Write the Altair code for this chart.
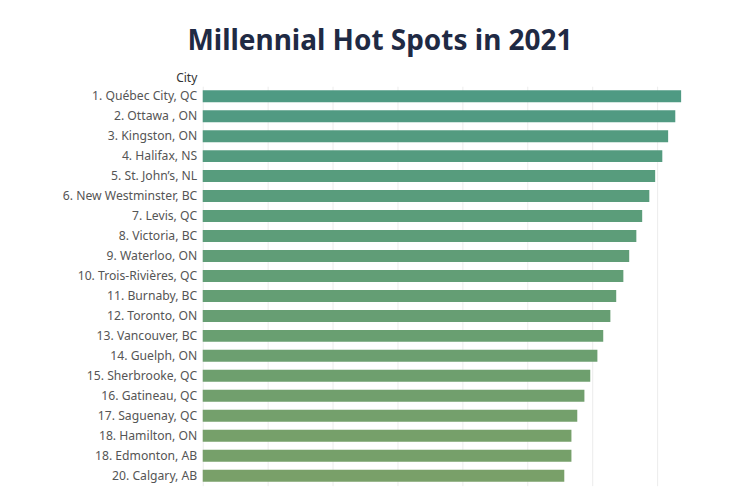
import altair as alt
import pandas as pd

cities = [
    "1. Québec City, QC", "2. Ottawa , ON", "3. Kingston, ON", "4. Halifax, NS",
    "5. St. John’s, NL", "6. New Westminster, BC", "7. Levis, QC", "8. Victoria, BC",
    "9. Waterloo, ON", "10. Trois-Rivières, QC", "11. Burnaby, BC", "12. Toronto, ON",
    "13. Vancouver, BC", "14. Guelph, ON", "15. Sherbrooke, QC", "16. Gatineau, QC",
    "17. Saguenay, QC", "18. Hamilton, ON", "18. Edmonton, AB", "20. Calgary, AB",
]
scores = [73.7, 72.8, 71.7, 70.8, 69.7, 68.8, 67.7, 66.8, 65.7, 64.8,
          63.7, 62.8, 61.7, 60.8, 59.7, 58.8, 57.7, 56.8, 56.8, 55.7]

df = pd.DataFrame({"City": cities, "Score": scores})

FONT = "Noto Sans"

chart = alt.Chart(df).mark_bar().encode(
    y=alt.Y("City:N", sort=cities,
            scale=alt.Scale(paddingInner=0.4, paddingOuter=0.2),
            axis=alt.Axis(title="City", titleAngle=0, titleAlign="right",
                          titleBaseline="bottom", titleX=-6, titleY=-2,
                          titleFont=FONT, titleFontSize=12, titleFontWeight="normal",
                          titleColor="#333333",
                          labelFont=FONT, labelFontSize=12.2, labelColor="#555555",
                          labelPadding=6, ticks=False, domain=False)),
    x=alt.X("Score:Q", scale=alt.Scale(domain=[0, 78], nice=False),
            axis=alt.Axis(title=None, labels=False, ticks=False, domain=False,
                          values=[0, 10, 20, 30, 40, 50, 60, 70],
                          grid=True, gridColor="#ececec", gridWidth=1)),
    color=alt.Color("Score:Q", legend=None,
                    scale=alt.Scale(domain=[55.7, 73.7], range=["#79a069", "#4f9a83"])),
).properties(
    width=507, height=400,
    title=alt.TitleParams("Millennial Hot Spots in 2021", font=FONT, fontSize=28,
                          fontWeight="bold", color="#1f2a44", anchor="middle",
                          frame="group", dx=-76, offset=15),
    autosize=alt.AutoSizeParams(type="none"),
    padding={"left": 195, "top": 78, "right": 30, "bottom": 5},
).configure_view(stroke=None)

chart.save("out.html", embed_options={"renderer": "svg", "actions": False})
